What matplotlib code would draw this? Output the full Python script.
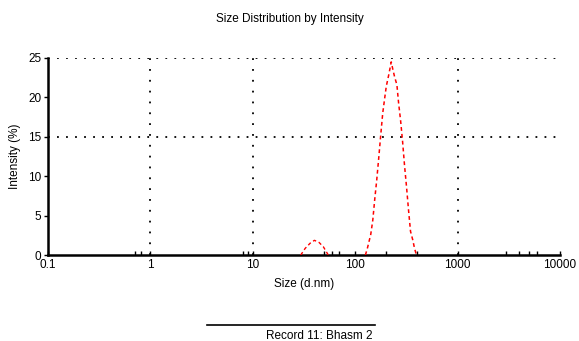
import matplotlib.pyplot as plt
import numpy as np

plt.rcParams['font.family'] = ['Liberation Sans', 'DejaVu Sans']

# size (d.nm) and intensity (%)
small_size = [29.4, 32.5, 36.3, 40.0, 44.4, 48.9, 54.7]
small_int = [0.0, 0.85, 1.5, 1.87, 1.6, 1.05, 0.0]

big_size = [125.9, 131.6, 141.9, 148.6, 155.4, 162.4, 169.9, 177.7, 185.9, 194.3,
            201.4, 212.4, 222.2, 225.0, 233.9, 242.9, 255.7, 265.6, 277.7, 290.6,
            303.9, 317.8, 332.2, 347.5, 365.7, 380.2, 397.2]
big_int = [0.0, 0.85, 2.6, 4.4, 7.1, 9.5, 12.3, 15.2, 18.0, 19.9,
           21.4, 22.8, 24.1, 24.5, 23.5, 22.6, 21.6, 19.3, 17.1, 14.4,
           11.3, 8.6, 5.7, 3.0, 1.9, 0.85, 0.0]

xticks = [0.1, 1, 10, 100, 1000, 10000]
xtick_labels = ["0.1", "1", "10", "100", "1000", "10000"]
minor_ticks = [0.7, 0.8, 8, 9, 50, 60, 70, 200, 400, 3000, 4000, 5000, 6000]
yticks = [0, 5, 10, 15, 20, 25]
hgrid = [15, 25]
vgrid = [1, 10, 1000]

fig = plt.figure(figsize=(5.79, 3.41), dpi=100)
ax = fig.add_axes([0.083, 0.252, 0.884, 0.578])

#dotted grid
for g in hgrid:
    ax.plot([0.1, 10000], [g, g], color="black", lw=1.3, ls=(0, (1, 4)), zorder=1)
for g in vgrid:
    ax.plot([g, g], [0, 25], color="black", lw=1.3, ls=(0, (1, 5)), zorder=1)

# the record
ax.plot(small_size, small_int, color="red", lw=1, ls=(0, (2.5, 2)), zorder=3)
ax.plot(big_size, big_int, color="red", lw=1.1, ls=(0, (2.5, 2)), zorder=3)

ax.set_xscale("log")
ax.set_xlim(0.1, 10000)
ax.set_ylim(0, 25)
ax.set_xticks(xticks)
ax.set_xticklabels(xtick_labels)
ax.set_xticks(minor_ticks, minor=True)
ax.set_xticklabels([], minor=True)
ax.set_yticks(yticks)
ax.tick_params(axis="x", which="both", direction="in", length=3, width=1, labelsize=8.5, pad=3)
ax.tick_params(axis="y", direction="out", length=3, width=1, labelsize=8.5, pad=2)

for s in ["top", "right"]:
    ax.spines[s].set_visible(False)
ax.spines["left"].set_linewidth(1.8)
ax.spines["bottom"].set_linewidth(1.8)

ax.set_xlabel("Size (d.nm)", fontsize=8.5, labelpad=5)
ax.set_ylabel("Intensity (%)", fontsize=8.5, labelpad=5)
fig.text(0.5, 0.945, "Size Distribution by Intensity", ha="center", va="center", fontsize=8.5)

# legend at the bottom
fig.add_artist(plt.Line2D([207 / 579, 375 / 579], [1 - 325 / 341, 1 - 325 / 341],
                          color="black", lw=1.2))
fig.text(372 / 579, 1 - 336 / 341, "Record 11: Bhasm 2", ha="right", va="center", fontsize=8.5)

plt.savefig("out.png", dpi=100)
